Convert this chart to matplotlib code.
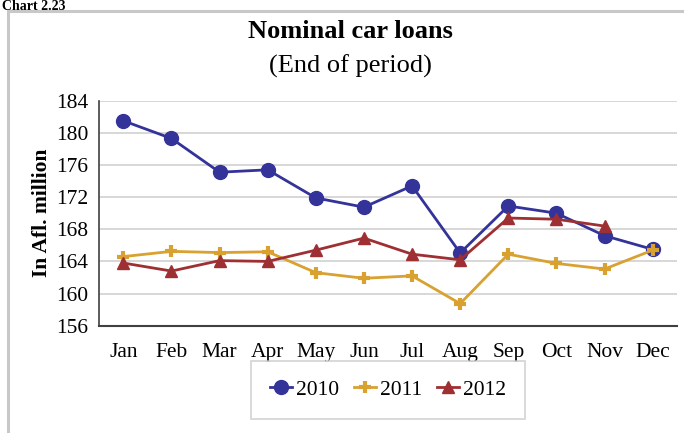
import numpy as np
import matplotlib
matplotlib.use("Agg")
import matplotlib.pyplot as plt
from matplotlib.patches import Rectangle

# ===========================
# Data
# ===========================

months = ["Jan", "Feb", "Mar", "Apr", "May", "Jun",
          "Jul", "Aug", "Sep", "Oct", "Nov", "Dec"]

loans_2010 = [181.5, 179.3, 175.1, 175.4, 171.9, 170.75,
              173.4, 165.05, 170.9, 170.0, 167.2, 165.5]

loans_2011 = [164.6, 165.25, 165.1, 165.2, 162.6, 161.9,
              162.2, 158.75, 164.9, 163.75, 163.05, 165.4]

loans_2012 = [163.8, 162.8, 164.1, 164.0, 165.4, 166.9,
              164.9, 164.2, 169.4, 169.25, 168.4]

y_ticks = [156, 160, 164, 168, 172, 176, 180, 184]

# ===========================
# Figure
# ===========================

plt.rcParams["font.family"] = ["Liberation Serif", "DejaVu Serif"]

fig = plt.figure(figsize=(6.84, 4.33), dpi=100)

# outer chart frame
fig.patches.append(Rectangle((8 / 684, -0.05), 1.2, 1 - 11 / 433 + 0.05,
                             transform=fig.transFigure, fill=False,
                             edgecolor="#c8c8c8", linewidth=2.2))

fig.text(2 / 684, 1.0, "Chart 2.23", fontsize=10, fontweight="bold",
         ha="left", va="top")

ax = fig.add_axes([99.3 / 684, 1 - 325.7 / 433,
                   (676.7 - 99.3) / 684, (325.7 - 100.7) / 433])

x = np.arange(len(months))

ax.plot(x, loans_2010, color="#333399", linewidth=2.0,
        marker="o", markersize=10, label="2010")
ax.plot(x, loans_2011, color="#d9a130", linewidth=2.0,
        marker="+", markersize=9, markeredgewidth=3, label="2011")
ax.plot(x[:len(loans_2012)], loans_2012, color="#9e2f33", linewidth=2.0,
        marker="^", markersize=8, label="2012")

ax.set_xlim(-0.5, 11.5)
ax.set_ylim(156, 184)
ax.set_yticks(y_ticks)
ax.set_xticks(x)
ax.set_xticklabels(months)
ax.tick_params(axis="both", length=0, labelsize=15.5)
ax.tick_params(axis="x", pad=12.5)
ax.tick_params(axis="y", pad=8)

ax.grid(axis="y", color="#d4d4d4", linewidth=1.3)
ax.set_axisbelow(True)

for side in ["top", "right"]:
    ax.spines[side].set_visible(False)
ax.spines["left"].set_color("#404040")
ax.spines["bottom"].set_color("#404040")
ax.spines["left"].set_linewidth(1.2)
ax.spines["bottom"].set_linewidth(1.5)

ax.set_ylabel("In Afl. million", fontsize=15.5, fontweight="bold", labelpad=3)

fig.text(350 / 684, 1 - 31 / 433, "Nominal car loans", fontsize=19,
         fontweight="bold", ha="center", va="center")
fig.text(350 / 684, 1 - 66 / 433, "(End of period)", fontsize=19,
         ha="center", va="center")

leg = ax.legend(loc="center", bbox_to_anchor=(388 / 684, 1 - 390 / 433),
                bbox_transform=fig.transFigure, ncol=3, fontsize=15.5,
                frameon=True, fancybox=False, edgecolor="#c8c8c8",
                handlelength=1.0, handletextpad=0.2, columnspacing=0.7,
                borderpad=0.9)
leg.get_frame().set_linewidth(1.2)

fig.savefig("out.png", dpi=100)
